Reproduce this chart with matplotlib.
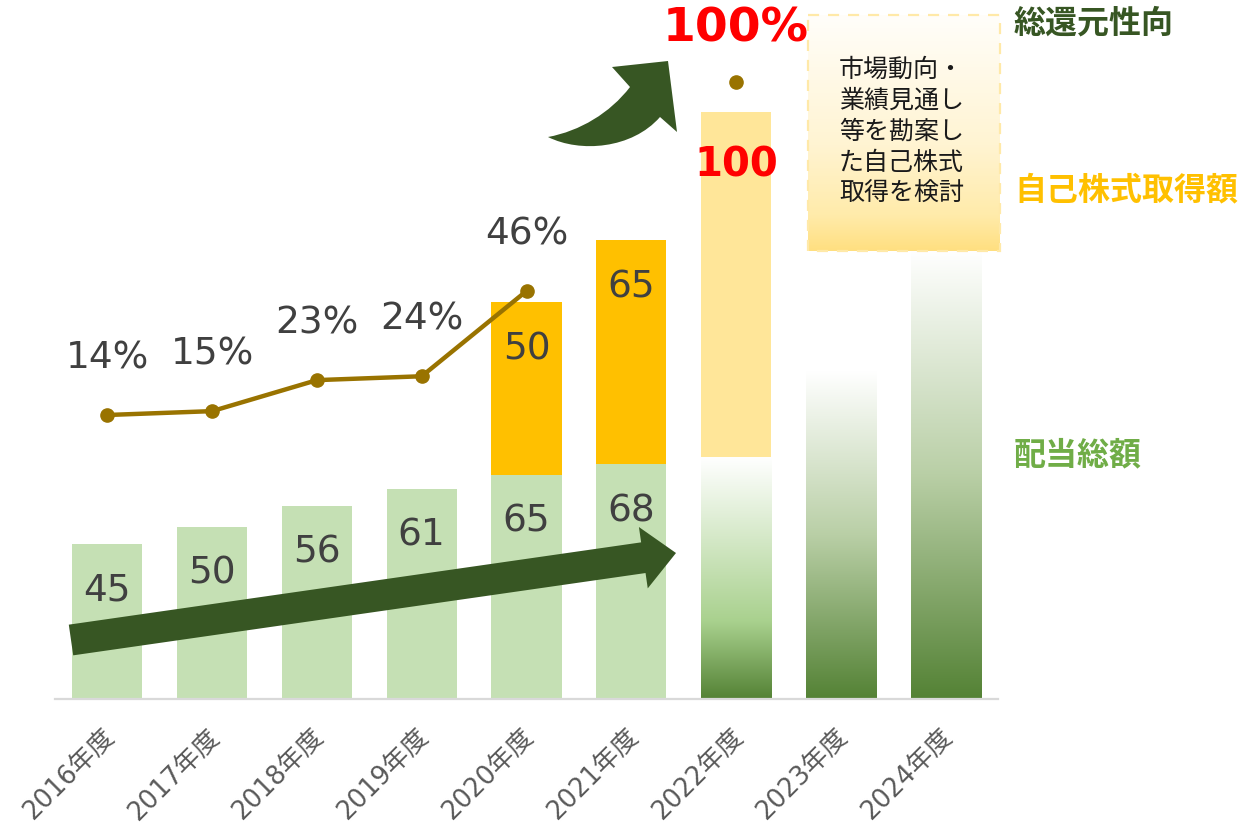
import numpy as np
import matplotlib
matplotlib.use("Agg")
import matplotlib.pyplot as plt
from matplotlib.colors import LinearSegmentedColormap
from matplotlib.patches import Polygon, PathPatch, Rectangle
from matplotlib.path import Path
import matplotlib.transforms as mtransforms

# ---- data ----
years = ["2016年度", "2017年度", "2018年度", "2019年度", "2020年度",
         "2021年度", "2022年度", "2023年度", "2024年度"]
dividends = [45, 50, 56, 61, 65, 68, 70, 95, 130]
buybacks = [0, 0, 0, 0, 50, 65, 100, 0, 0]
payout_pct = [14, 15, 23, 24, 46, np.nan, 100, np.nan, np.nan]
note_lines = ["市場動向・", "業績見通し", "等を勘案し", "た自己株式", "取得を検討"]
legend_labels = ["総還元性向", "自己株式取得額", "配当総額"]

JP = ["Noto Sans CJK JP", "DejaVu Sans"]
NUM = ["DejaVu Sans", "Noto Sans CJK JP"]

W, H = 1239, 826
fig = plt.figure(figsize=(W / 100, H / 100), dpi=100)
fig.patch.set_facecolor("white")

ax = fig.add_axes([55 / W, 1 - 699 / H, (998 - 55) / W, 699 / H])
x = np.arange(len(years))
bw = 0.67

# fill styles: actual years solid, plan years gradient
solid_green = "#C5E0B4"
gold = "#FFC000"
pale_gold = "#FFE699"

cmap_2022 = LinearSegmentedColormap.from_list(
    "g22", [(0.0, "#548235"), (0.32, "#A9D18E"), (1.0, "#FFFFFF")])
cmap_plan = LinearSegmentedColormap.from_list(
    "gplan", [(0.0, "#548235"), (0.5, "#B9CFA6"), (1.0, "#FFFFFF")])


def gradient_bar(axis, xc, bottom, height, width, cmap):
    rect = axis.bar(xc, height, width, bottom=bottom, color="none",
                    edgecolor="none", zorder=2)[0]
    grad = np.linspace(0, 1, 256).reshape(-1, 1)
    im = axis.imshow(grad, extent=(xc - width / 2, xc + width / 2, bottom,
                                   bottom + height),
                     origin="lower", cmap=cmap, aspect="auto", zorder=2,
                     interpolation="bicubic")
    im.set_clip_path(rect)


for i in range(len(years)):
    if i <= 5:
        ax.bar(x[i], dividends[i], bw, color=solid_green, zorder=2)
    elif i == 6:
        gradient_bar(ax, x[i], 0, dividends[i], bw, cmap_2022)
    else:
        gradient_bar(ax, x[i], 0, dividends[i], bw, cmap_plan)
    if buybacks[i] > 0:
        ax.bar(x[i], buybacks[i], bw, bottom=dividends[i],
               color=pale_gold if i == 6 else gold, zorder=2)

ax.set_xlim(-0.5, len(years) - 0.5)
ax.set_ylim(0, 699 / 3.45)
for s in ax.spines.values():
    s.set_visible(False)
ax.set_yticks([])
ax.axhline(0, color="#D9D9D9", lw=1.6, zorder=3, clip_on=False)

# value labels inside bars
off = 13.6
for i in range(6):
    ax.text(x[i], dividends[i] - off, str(dividends[i]), ha="center",
            va="center", fontsize=27, color="#404040", family=NUM, zorder=4)
for i in (4, 5):
    ax.text(x[i], dividends[i] + buybacks[i] - off, str(buybacks[i]),
            ha="center", va="center", fontsize=27, color="#404040",
            family=NUM, zorder=4)
ax.text(x[6], dividends[6] + buybacks[6] - 15.5, str(buybacks[6]),
        ha="center", va="center", fontsize=29, color="#FF0000",
        fontweight="bold", family=NUM, zorder=4)

# category labels
ax.set_xticks(x)
ax.set_xticklabels(years, rotation=45, ha="right", rotation_mode="anchor",
                   fontsize=18.5, color="#595959", family=NUM)
ax.tick_params(axis="x", length=0, pad=18)
shift = mtransforms.ScaledTranslation(-6 / 100, 0, fig.dpi_scale_trans)
for lab in ax.get_xticklabels():
    lab.set_transform(lab.get_transform() + shift)

# total return ratio line
ax2 = ax.twinx()
ax2.set_ylim(14 - 284 / 3.875, 14 + 415 / 3.875)
ax2.axis("off")
ax2.plot(x, payout_pct, color="#997300", lw=3.2, marker="o", ms=9.5,
         zorder=5)
for i, v in enumerate(payout_pct):
    if np.isnan(v):
        continue
    if v >= 100:
        ax2.text(x[i], v + 13.5, f"{v:.0f}%", ha="center", va="center",
                 fontsize=34, fontweight="bold", color="#FF0000", family=NUM)
    else:
        ax2.text(x[i], v + 14.7, f"{v:.0f}%", ha="center", va="center",
                 fontsize=27, color="#404040", family=NUM)

# overlay in pixel coordinates for arrows, note box and side labels
ov = fig.add_axes([0, 0, 1, 1], zorder=10)
ov.set_xlim(0, W)
ov.set_ylim(H, 0)
ov.axis("off")
ov.patch.set_visible(False)

dark_green = "#375623"

# straight growth arrow
T = np.array([71.0, 640.0])
P = np.array([676.0, 553.0])
u = (P - T) / np.linalg.norm(P - T)
n = np.array([-u[1], u[0]])
hw_shaft, hw_head, head_len = 15.5, 31.0, 33.0
B = P - u * head_len
pts = [T + n * hw_shaft, B + n * hw_shaft, B + n * hw_head, P,
       B - n * hw_head, B - n * hw_shaft, T - n * hw_shaft]
ov.add_patch(Polygon(pts, closed=True, facecolor=dark_green,
                     edgecolor="none", zorder=3))

# curved arrow
verts = [(548, 137), (580, 153), (632, 149), (660, 117), (677, 132),
         (668, 61), (612, 67), (630, 87), (610, 113), (580, 131),
         (548, 137), (548, 137)]
codes = [Path.MOVETO, Path.CURVE4, Path.CURVE4, Path.CURVE4, Path.LINETO,
         Path.LINETO, Path.LINETO, Path.LINETO, Path.CURVE4, Path.CURVE4,
         Path.CURVE4, Path.CLOSEPOLY]
ov.add_patch(PathPatch(Path(verts, codes), facecolor=dark_green,
                       edgecolor="none", zorder=3))

# note box with vertical gradient and dashed border
bx0, bx1, by0, by1 = 808, 1000, 15, 251
box_cmap = LinearSegmentedColormap.from_list(
    "box", [(0.0, "#FFFEFA"), (0.55, "#FFF4D2"), (0.85, "#FFEBAA"),
            (1.0, "#FFDF80")])
grad = np.linspace(0, 1, 256).reshape(-1, 1)
ov.imshow(grad, extent=(bx0, bx1, by1, by0), origin="upper", cmap=box_cmap,
          aspect="auto", zorder=4, interpolation="bicubic")
ov.add_patch(Rectangle((bx0, by0), bx1 - bx0, by1 - by0, facecolor="none",
                       edgecolor="#FFE9A8", lw=1.6, ls=(0, (5, 4)),
                       zorder=5))
ov.set_xlim(0, W)
ov.set_ylim(H, 0)
for k, line in enumerate(note_lines):
    ov.text(839, 70 + 31 * k, line, ha="left", va="center", fontsize=18,
            color="#1A1A1A", family=JP, zorder=6)

# series captions on the right
caption_colors = [dark_green, "#FFC000", "#70AD47"]
caption_y = [24, 190, 455]
for lab, c, yy in zip(legend_labels, caption_colors, caption_y):
    ov.text(1014, yy, lab, ha="left", va="center", fontsize=23,
            fontweight="bold", color=c, family=JP, zorder=6)

fig.savefig("out.png", dpi=100, facecolor="white")
